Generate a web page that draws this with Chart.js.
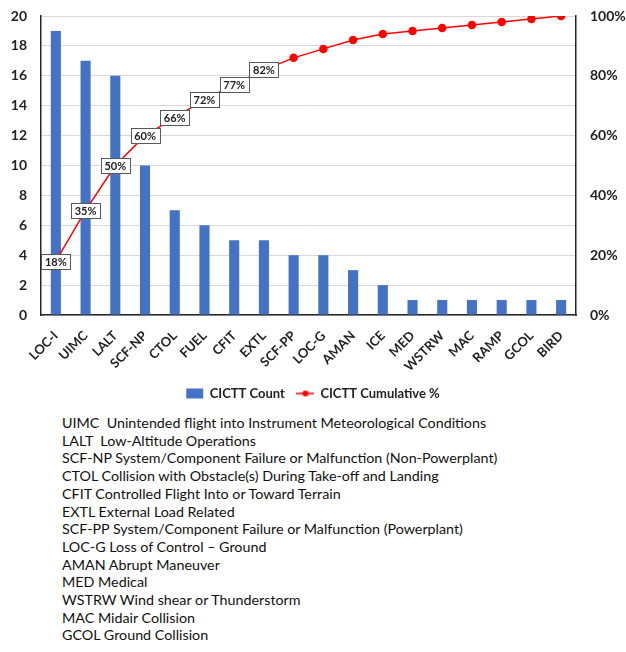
<!DOCTYPE html>
<html>
<head>
<meta charset="utf-8">
<script src="https://cdn.jsdelivr.net/npm/chart.js@4"></script>
<style>
  body { margin: 0; background: #fff; }
  #wrap { width: 626px; height: 410px; position: relative; }
  #notes {
    position: absolute;
    left: 62px;
    top: 414px;
    font-family: Lato, "Open Sans", sans-serif;
    font-size: 14.3px;
    line-height: 17.7px;
    color: #111;
  }
</style>
</head>
<body>
<div id="wrap"><canvas id="paretoChart"></canvas></div>
<div id="notes"></div>
<script>
const categories = ['LOC-I', 'UIMC', 'LALT', 'SCF-NP', 'CTOL', 'FUEL', 'CFIT', 'EXTL', 'SCF-PP',
    'LOC-G', 'AMAN', 'ICE', 'MED', 'WSTRW', 'MAC', 'RAMP', 'GCOL', 'BIRD'];
const counts = [19, 17, 16, 10, 7, 6, 5, 5, 4, 4, 3, 2, 1, 1, 1, 1, 1, 1];
const cumulativePct = [18, 35, 50, 60, 66, 72, 77, 82, 86, 89, 92, 94, 95, 96, 97, 98, 99, 100];
const labelledPoints = 8;
const countTicks = [0, 2, 4, 6, 8, 10, 12, 14, 16, 18, 20];
const pctTicks = [0, 20, 40, 60, 80, 100];
const notes = [
    'UIMC&nbsp; Unintended flight into Instrument Meteorological Conditions',
    'LALT&nbsp; Low-Altitude Operations',
    'SCF-NP System/Component Failure or Malfunction (Non-Powerplant)',
    'CTOL Collision with Obstacle(s) During Take-off and Landing',
    'CFIT Controlled Flight Into or Toward Terrain',
    'EXTL External Load Related',
    'SCF-PP System/Component Failure or Malfunction (Powerplant)',
    'LOC-G Loss of Control \u2013 Ground',
    'AMAN Abrupt Maneuver',
    'MED Medical',
    'WSTRW Wind shear or Thunderstorm',
    'MAC Midair Collision',
    'GCOL Ground Collision'
];

document.getElementById('notes').innerHTML = notes.map(n => '<div>' + n + '</div>').join('');

const FONT = 'Lato, "Open Sans", sans-serif';
const TEXT = '#222';

// little line-with-dot icon for the legend
function lineIcon() {
    const c = document.createElement('canvas');
    c.width = 18; c.height = 10;
    const g = c.getContext('2d');
    g.strokeStyle = '#ff0000';
    g.lineWidth = 1.5;
    g.beginPath(); g.moveTo(0, 5); g.lineTo(18, 5); g.stroke();
    g.fillStyle = '#ff0000';
    g.beginPath(); g.arc(9, 5, 3, 0, Math.PI * 2); g.fill();
    return c;
}

const boxLabels = {
    id: 'boxLabels',
    afterDatasetsDraw(chart) {
        const meta = chart.getDatasetMeta(1);
        const ctx = chart.ctx;
        ctx.save();
        ctx.font = 'bold 11px ' + FONT;
        ctx.textAlign = 'center';
        ctx.textBaseline = 'middle';
        meta.data.slice(0, labelledPoints).forEach((pt, i) => {
            const txt = cumulativePct[i] + '%';
            const w = Math.round(ctx.measureText(txt).width + 7);
            const h = 15;
            const x0 = Math.round(pt.x - w / 2), y0 = Math.round(pt.y - h / 2);
            ctx.fillStyle = '#fff';
            ctx.fillRect(x0, y0, w, h);
            ctx.strokeStyle = '#595959';
            ctx.lineWidth = 1;
            ctx.strokeRect(x0 + 0.5, y0 + 0.5, w, h);
            ctx.fillStyle = TEXT;
            ctx.fillText(txt, pt.x, pt.y + 1);
        });
        ctx.restore();
    }
};

new Chart(document.getElementById('paretoChart'), {
    data: {
        labels: categories,
        datasets: [
            {
                type: 'bar',
                label: 'CICTT Count',
                data: counts,
                backgroundColor: '#4472c4',
                barPercentage: 0.34,
                categoryPercentage: 1,
                yAxisID: 'y',
                order: 2
            },
            {
                type: 'line',
                label: 'CICTT Cumulative %',
                data: cumulativePct,
                borderColor: '#ff0000',
                backgroundColor: '#ff0000',
                borderWidth: 1.5,
                pointRadius: 3.5,
                pointHoverRadius: 3.5,
                yAxisID: 'y1',
                order: 1
            }
        ]
    },
    options: {
        responsive: true,
        maintainAspectRatio: false,
        animation: false,
        layout: { padding: { top: 16, left: 0, right: 0, bottom: 0 } },
        plugins: {
            tooltip: { enabled: false },
            legend: {
                position: 'bottom',
                labels: {
                    font: { family: FONT, size: 13, weight: 'bold' },
                    color: TEXT,
                    usePointStyle: true,
                    pointStyleWidth: 17,
                    boxHeight: 10,
                    padding: 12,
                    sort: (a, b) => a.datasetIndex - b.datasetIndex,
                    generateLabels(chart) {
                        const items = Chart.defaults.plugins.legend.labels.generateLabels(chart);
                        items.forEach(it => {
                            if (it.datasetIndex === 0) {
                                it.pointStyle = 'rect';
                                it.strokeStyle = '#4472c4';
                                it.lineWidth = 0;
                            } else {
                                it.pointStyle = lineIcon();
                            }
                        });
                        return items;
                    }
                }
            }
        },
        scales: {
            x: {
                afterFit: s => { s.height = 60; },
                grid: { display: false, drawTicks: false },
                border: { color: '#262626', width: 1.5 },
                ticks: {
                    font: { family: FONT, size: 13, weight: 'bold' },
                    color: TEXT,
                    minRotation: 45,
                    maxRotation: 45,
                    autoSkip: false,
                    padding: 13
                }
            },
            y: {
                position: 'left',
                min: 0,
                max: 20,
                afterBuildTicks: s => { s.ticks = countTicks.map(v => ({ value: v })); },
                afterFit: s => { s.width = 41; s.paddingTop = 0; s.paddingBottom = 0; },
                grid: { color: '#d9d9d9', drawTicks: false },
                border: { color: '#262626', width: 1.5 },
                ticks: {
                    font: { family: FONT, size: 14, weight: 'bold' },
                    color: TEXT,
                    padding: 14
                }
            },
            y1: {
                position: 'right',
                min: 0,
                max: 100,
                afterBuildTicks: s => { s.ticks = pctTicks.map(v => ({ value: v })); },
                afterFit: s => { s.width = 50; s.paddingTop = 0; s.paddingBottom = 0; },
                grid: { display: false, drawTicks: false },
                border: { color: '#262626', width: 1.5 },
                ticks: {
                    font: { family: FONT, size: 14, weight: 'bold' },
                    color: TEXT,
                    padding: 14,
                    callback: v => v + '%'
                }
            }
        }
    },
    plugins: [boxLabels]
});
</script>
</body>
</html>
